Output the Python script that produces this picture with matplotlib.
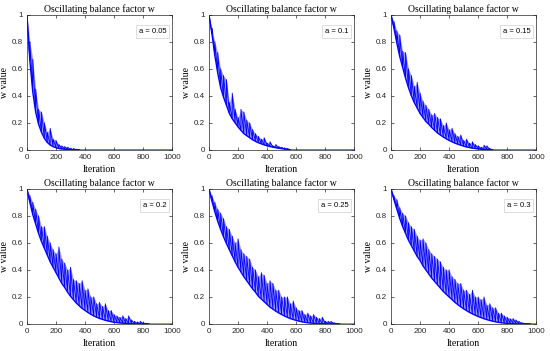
import numpy as np
import matplotlib.pyplot as plt

# values, one sample every 20 iterations
sample_step = 20
a_values = ['0.05', '0.1', '0.15', '0.2', '0.25', '0.3']

low_005 = [1.0, 0.66, 0.43, 0.28, 0.19, 0.13, 0.085, 0.055, 0.036, 0.024, 0.016, 0.01, 0.007, 0.005,
           0.003, 0.002, 0.001, 0.0005, 0.0]
high_005 = [1.0, 0.8, 0.67, 0.45, 0.3, 0.28, 0.2, 0.13, 0.16, 0.08, 0.07, 0.04, 0.03, 0.025,
            0.02, 0.012, 0.01, 0.005, 0.0]

low_01 = [1.0, 0.86, 0.7, 0.57, 0.46, 0.39, 0.33, 0.27, 0.23, 0.2, 0.17, 0.145, 0.12, 0.105, 0.09,
          0.075, 0.063, 0.053, 0.045, 0.037, 0.03, 0.025, 0.02, 0.016, 0.012, 0.009, 0.006, 0.004, 0.0]
high_01 = [1.0, 0.9, 0.8, 0.72, 0.6, 0.55, 0.52, 0.35, 0.42, 0.3, 0.24, 0.3, 0.28, 0.22, 0.2,
           0.15, 0.12, 0.1, 0.08, 0.09, 0.05, 0.06, 0.03, 0.04, 0.025, 0.02, 0.015, 0.01, 0.0]

low_015 = [1.0, 0.9, 0.79, 0.69, 0.61, 0.53, 0.46, 0.4, 0.35, 0.31, 0.27, 0.24, 0.21, 0.19, 0.165,
           0.145, 0.125, 0.11, 0.095, 0.082, 0.07, 0.06, 0.05, 0.042, 0.035, 0.028, 0.022, 0.017,
           0.013, 0.01, 0.007, 0.005, 0.003, 0.002, 0.001, 0.0]
high_015 = [1.0, 0.95, 0.88, 0.85, 0.73, 0.72, 0.6, 0.55, 0.47, 0.5, 0.42, 0.36, 0.33, 0.3, 0.26,
            0.27, 0.24, 0.23, 0.18, 0.2, 0.15, 0.16, 0.12, 0.1, 0.11, 0.07, 0.08, 0.05, 0.06, 0.04,
            0.03, 0.02, 0.035, 0.03, 0.01, 0.0]

low_02 = [1.0, 0.9, 0.81, 0.74, 0.67, 0.61, 0.56, 0.51, 0.46, 0.42, 0.38, 0.34, 0.3, 0.27, 0.235,
          0.205, 0.18, 0.155, 0.135, 0.115, 0.1, 0.085, 0.072, 0.06, 0.05, 0.041, 0.034, 0.027,
          0.022, 0.017, 0.013, 0.01, 0.008, 0.006, 0.004, 0.003, 0.002, 0.001, 0.001, 0.0, 0.0,
          0.0, 0.0]
high_02 = [1.0, 0.95, 0.9, 0.85, 0.8, 0.72, 0.72, 0.65, 0.6, 0.55, 0.52, 0.57, 0.48, 0.45, 0.4,
           0.42, 0.33, 0.32, 0.3, 0.32, 0.25, 0.26, 0.2, 0.2, 0.15, 0.16, 0.13, 0.15, 0.1, 0.1,
           0.07, 0.06, 0.05, 0.06, 0.04, 0.06, 0.03, 0.02, 0.015, 0.02, 0.01, 0.005, 0.0]

low_025 = [1.0, 0.91, 0.83, 0.76, 0.7, 0.645, 0.595, 0.55, 0.505, 0.46, 0.42, 0.385, 0.35, 0.32,
           0.29, 0.26, 0.235, 0.205, 0.185, 0.165, 0.145, 0.125, 0.11, 0.095, 0.082, 0.07, 0.059,
           0.049, 0.04, 0.033, 0.027, 0.021, 0.016, 0.012, 0.009, 0.007, 0.005, 0.003, 0.002,
           0.001, 0.001, 0.0, 0.0, 0.0, 0.0, 0.0]
high_025 = [1.0, 0.95, 0.9, 0.85, 0.82, 0.78, 0.72, 0.7, 0.65, 0.6, 0.63, 0.55, 0.52, 0.5, 0.48,
            0.42, 0.4, 0.35, 0.38, 0.36, 0.3, 0.32, 0.3, 0.25, 0.25, 0.2, 0.2, 0.2, 0.15, 0.17,
            0.12, 0.1, 0.1, 0.07, 0.08, 0.06, 0.07, 0.05, 0.04, 0.05, 0.02, 0.02, 0.02, 0.01,
            0.005, 0.0]

low_03 = [1.0, 0.92, 0.85, 0.78, 0.72, 0.67, 0.62, 0.58, 0.54, 0.5, 0.47, 0.43, 0.4, 0.37, 0.34,
          0.315, 0.29, 0.265, 0.24, 0.22, 0.2, 0.18, 0.16, 0.143, 0.127, 0.112, 0.099, 0.086,
          0.075, 0.065, 0.055, 0.047, 0.039, 0.032, 0.026, 0.021, 0.016, 0.012, 0.009, 0.007,
          0.005, 0.003, 0.002, 0.001, 0.001, 0.0, 0.0, 0.0, 0.0]
high_03 = [1.0, 0.95, 0.92, 0.86, 0.82, 0.8, 0.75, 0.72, 0.7, 0.65, 0.62, 0.63, 0.6, 0.55, 0.52,
           0.5, 0.48, 0.46, 0.42, 0.4, 0.4, 0.35, 0.33, 0.3, 0.3, 0.25, 0.25, 0.22, 0.25, 0.2,
           0.2, 0.18, 0.2, 0.14, 0.15, 0.12, 0.12, 0.08, 0.08, 0.06, 0.05, 0.04, 0.04, 0.03, 0.02,
           0.01, 0.005, 0.003, 0.0]

lows = [low_005, low_01, low_015, low_02, low_025, low_03]
highs = [high_005, high_01, high_015, high_02, high_025, high_03]

n_iter = 1000
x_ticks = [0, 200, 400, 600, 800, 1000]
y_ticks = [0, 0.2, 0.4, 0.6, 0.8, 1]
y_tick_labels = ['0', '0.2', '0.4', '0.6', '0.8', '1']


def sawtooth(low, high):
    # each sample: jump up to the spike, then decay down to the next low value
    its = np.arange(len(low)) * sample_step
    xs, ys = [], []
    for it, lo, hi in zip(its, low, high):
        xs += [it, it]
        ys += [lo, hi]
    xs.append(n_iter)
    ys.append(0.0)
    return its, xs, ys


def main():
    plt.rcParams['font.family'] = ['Liberation Sans', 'DejaVu Sans']
    fig = plt.figure(figsize=(5.5, 3.51), dpi=100)

    lefts = [0.049, 0.38, 0.711]
    bottoms = [0.573, 0.077]
    width, height = 0.264, 0.385

    for i, (low, high, a) in enumerate(zip(lows, highs, a_values)):
        row, col = divmod(i, 3)
        ax = fig.add_axes([lefts[col], bottoms[row], width, height])
        its, xs, ys = sawtooth(low, high)
        # dense band between the decaying floor and the spike tops
        ax.fill_between(its, low, high, color='#0000ff', alpha=0.4, lw=0)
        ax.plot(its, low, color='#0000ff', lw=1.0)
        ax.plot(xs, ys, color='#0000ff', lw=0.6)

        ax.set_xlim(0, n_iter)
        ax.set_ylim(0, 1)
        ax.set_xticks(x_ticks)
        ax.set_yticks(y_ticks)
        ax.set_yticklabels(y_tick_labels)
        ax.tick_params(direction='in', labelsize=5.8, length=2.5, width=0.5,
                       top=True, right=True, pad=3, colors='#262626')
        for spine in ax.spines.values():
            spine.set_linewidth(0.5)
            spine.set_color('#262626')

        ax.set_title('Oscillating balance factor w', family='Liberation Serif',
                     fontsize=7, pad=2)
        ax.set_xlabel('Iteration', family='Liberation Serif', fontsize=7, labelpad=2.5)
        ax.set_ylabel('w value', family='Liberation Serif', fontsize=7, labelpad=2)

        ax.text(0.96, 0.9, 'a = ' + a, transform=ax.transAxes, ha='right', va='top',
                fontsize=5.5, bbox=dict(boxstyle='square,pad=0.4', fc='white',
                                        ec='#d0d0d0', lw=0.5))

    fig.savefig('out.png', dpi=100)
    print('donzo')


if __name__ == '__main__':
    main()
